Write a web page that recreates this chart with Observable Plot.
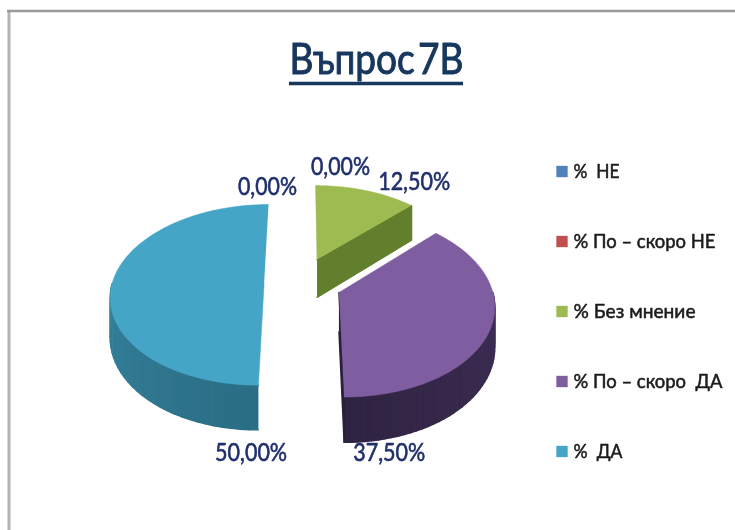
<!DOCTYPE html>
<html lang="bg">
<head>
<meta charset="utf-8">
<script src="https://cdn.jsdelivr.net/npm/d3@7"></script>
<script src="https://cdn.jsdelivr.net/npm/@observablehq/plot@0.6"></script>
<style>
  html, body { margin: 0; padding: 0; background: #fff; }
  svg { display: block; filter: blur(0.6px); }
</style>
</head>
<body>
<div id="chart"></div>
<script>
const titleText = "Въпрос 7В";
const categories = ["%  НЕ", "% По – скоро НЕ", "% Без мнение", "% По – скоро  ДА", "%  ДА"];
const values = [0, 0, 12.5, 37.5, 50];
const colors = ["#4f81bd", "#c0504d", "#9dbb50", "#7e5da0", "#45a5c6"];

// Layout of the 3D perspective view
const W = 735, H = 530;
const R = 152, depth = 39, K = 0.126, vanishX = 303, vanishY = -423, spread = 706;
const explode = [{u: 0, v: 0}, {u: 0, v: 0}, {u: 14, v: -0.278}, {u: 35, v: 0.1}, {u: -39.4, v: 0}];
const labelNudge = [[-36, -17], [37, -37], [48, -9], [-101, 124], [139, 169]];
const wallShade = [null, null, ["#617f2d", "#617f2d"], ["#46345f", "#2f2342"], ["#2a6d84", "#4097b5"]];
const radialShade = [null, null, "#617f2d", "#2b203c", null];
const font = "Lato, sans-serif";
const labelWidths = [59, 59, 72, 72, 72];
const legendWidths = [46, 142, 122, 149, 49];

// the reference's type is narrow: squeeze the installed face to the measured widths
const squeeze = (widths, wordSpacing = 0) => (index, scales, values, dims, context, next) => {
  const g = next(index, scales, values, dims, context);
  d3.select(g).selectAll("text")
    .attr("textLength", d => widths[d])
    .attr("lengthAdjust", "spacingAndGlyphs")
    .attr("word-spacing", wordSpacing);
  return g;
};

function project(s, theta, drop = 0) {
  const u = s.u + R * Math.sin(theta), v = s.v - Math.cos(theta);
  const k = 1 / (1 - K * v);
  return {x: vanishX + u * k, y: vanishY + spread * k + drop * k};
}

const pie = d3.pie().sort(null).value(d => d)(values);
const sweep = (a, b) => d3.range(0, 61).map(i => a + (b - a) * i / 60);

const walls = [], tops = [];
pie.forEach((p, i) => {
  if (p.value === 0) return;
  const s = explode[i], th = sweep(p.startAngle, p.endAngle);
  const apex = project({u: s.u, v: s.v + 1}, 0);
  // front-facing part of the rim wall, one overlapping quad per step, to carry the shading
  const shade = d3.interpolateRgb(wallShade[i][0], wallShade[i][1]);
  th.slice(1).forEach((t, j) => {
    if (Math.cos((th[j] + t) / 2) > 0) return;
    const a = project(s, th[j]), b = project(s, t), a2 = project(s, th[j], depth), b2 = project(s, t, depth);
    const id = `w${i}-${j}`, c = shade(j / 59);
    [a, b, b2, a2].forEach(q => walls.push({...q, id, c}));
  });
  // straight wall along the cut, where it faces the viewer
  if (radialShade[i]) {
    const edge = project(s, p.endAngle), edge2 = project(s, p.endAngle, depth);
    const apex2 = {x: apex.x, y: apex.y + depth * (apex.y - vanishY) / spread};
    [apex, edge, edge2, apex2].forEach(q => walls.push({...q, id: `r${i}`, c: radialShade[i]}));
  }
  // top face
  [apex, ...th.map(t => project(s, t))].forEach(q => tops.push({...q, cat: categories[i]}));
});

const labels = pie.map((p, i) => {
  const a = project(explode[i], (p.startAngle + p.endAngle) / 2);
  return {
    x: a.x + labelNudge[i][0],
    y: a.y + labelNudge[i][1],
    text: values[i].toFixed(2).replace(".", ",") + "%"
  };
});

const legendY = d3.scalePoint().domain(categories).range([171, 451]);

const plot = Plot.plot({
  width: W, height: H, margin: 0,
  style: {background: "#fff"},
  x: {domain: [0, W], range: [0, W], axis: null},
  y: {domain: [0, H], range: [0, H], axis: null},
  color: {type: "ordinal", domain: categories, range: colors},
  marks: [
    // slide frame
    Plot.ruleX([8.5], {y1: 10, y2: H, stroke: "#b4b4b4", strokeWidth: 3}),
    Plot.ruleY([10.5], {x1: 7, x2: W, stroke: "#9a9a9a", strokeWidth: 2.5}),
    // title
    Plot.text([titleText], {x: () => 376, y: () => 60, text: d => d, fontFamily: font, fontSize: 42, fill: "#17375e", stroke: "#17375e", strokeWidth: 1, textAnchor: "middle", render: squeeze([174], -7)}),
    Plot.ruleY([83], {x1: 289, x2: 463, stroke: "#17375e", strokeWidth: 3.5}),
    // pie
    Plot.line(walls, {x: "x", y: "y", z: "id", fill: {value: d => d.c, scale: null}, stroke: {value: d => d.c, scale: null}, strokeWidth: 1.4}),
    Plot.line(tops, {x: "x", y: "y", z: "cat", fill: "cat", stroke: "cat", strokeWidth: 0.5}),
    Plot.text(labels, {x: "x", y: "y", text: "text", fontFamily: font, fontSize: 25, fill: "#1f2f6b", stroke: "#1f2f6b", strokeWidth: 0.6, render: squeeze(labelWidths)}),
    // legend
    Plot.dot(categories, {x: () => 561.5, y: d => legendY(d), fill: d => d, symbol: "square", r: 6.4}),
    Plot.text(categories, {x: () => 573, y: d => legendY(d), text: d => d, textAnchor: "start", fontFamily: font, fontSize: 20, fill: "#1a1a1a", stroke: "#1a1a1a", strokeWidth: 0.55, render: squeeze(legendWidths)})
  ]
});
document.getElementById("chart").append(plot);
</script>
</body>
</html>
